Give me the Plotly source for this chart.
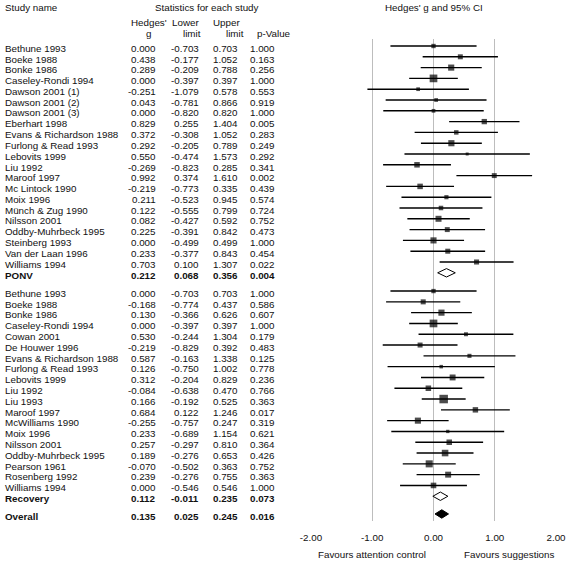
import plotly.graph_objects as go

# ---------------- data ----------------
ponv_names = ["Bethune 1993", "Boeke 1988", "Bonke 1986", "Caseley-Rondi 1994",
              "Dawson 2001 (1)", "Dawson 2001 (2)", "Dawson 2001 (3)", "Eberhart 1998",
              "Evans & Richardson 1988", "Furlong & Read 1993", "Lebovits 1999", "Liu 1992",
              "Maroof 1997", "Mc Lintock 1990", "Moix 1996", "Münch & Zug 1990",
              "Nilsson 2001", "Oddby-Muhrbeck 1995", "Steinberg 1993", "Van der Laan 1996",
              "Williams 1994"]
ponv_g = [0.000, 0.438, 0.289, 0.000, -0.251, 0.043, 0.000, 0.829, 0.372, 0.292, 0.550,
          -0.269, 0.992, -0.219, 0.211, 0.122, 0.082, 0.225, 0.000, 0.233, 0.703]
ponv_lo = [-0.703, -0.177, -0.209, -0.397, -1.079, -0.781, -0.820, 0.255, -0.308, -0.205,
           -0.474, -0.823, 0.374, -0.773, -0.523, -0.555, -0.427, -0.391, -0.499, -0.377, 0.100]
ponv_hi = [0.703, 1.052, 0.788, 0.397, 0.578, 0.866, 0.820, 1.404, 1.052, 0.789, 1.573,
           0.285, 1.610, 0.335, 0.945, 0.799, 0.592, 0.842, 0.499, 0.843, 1.307]
ponv_p = [1.000, 0.163, 0.256, 1.000, 0.553, 0.919, 1.000, 0.005, 0.283, 0.249, 0.292,
          0.341, 0.002, 0.439, 0.574, 0.724, 0.752, 0.473, 1.000, 0.454, 0.022]
ponv_summary = ["PONV", 0.212, 0.068, 0.356, 0.004]

rec_names = ["Bethune 1993", "Boeke 1988", "Bonke 1986", "Caseley-Rondi 1994", "Cowan 2001",
             "De Houwer 1996", "Evans & Richardson 1988", "Furlong & Read 1993",
             "Lebovits 1999", "Liu 1992", "Liu 1993", "Maroof 1997", "McWilliams 1990",
             "Moix 1996", "Nilsson 2001", "Oddby-Muhrbeck 1995", "Pearson 1961",
             "Rosenberg 1992", "Williams 1994"]
rec_g = [0.000, -0.168, 0.130, 0.000, 0.530, -0.219, 0.587, 0.126, 0.312, -0.084, 0.166,
         0.684, -0.255, 0.233, 0.257, 0.189, -0.070, 0.239, 0.000]
rec_lo = [-0.703, -0.774, -0.366, -0.397, -0.244, -0.829, -0.163, -0.750, -0.204, -0.638,
          -0.192, 0.122, -0.757, -0.689, -0.297, -0.276, -0.502, -0.276, -0.546]
rec_hi = [0.703, 0.437, 0.626, 0.397, 1.304, 0.392, 1.338, 1.002, 0.829, 0.470, 0.525,
          1.246, 0.247, 1.154, 0.810, 0.653, 0.363, 0.755, 0.546]
rec_p = [1.000, 0.586, 0.607, 1.000, 0.179, 0.483, 0.125, 0.778, 0.236, 0.766, 0.363,
         0.017, 0.319, 0.621, 0.364, 0.426, 0.752, 0.363, 1.000]
rec_summary = ["Recovery", 0.112, -0.011, 0.235, 0.073]

overall_summary = ["Overall", 0.135, 0.025, 0.245, 0.016]

tick_vals = [-2, -1, 0, 1, 2]
tick_text = ["-2.00", "-1.00", "0.00", "1.00", "2.00"]

# ---------------- layout geometry ----------------
W, H = 567, 563
Y0, ROW = 46.0, 10.8
PLOT_TOP, PLOT_BOT = 39, 521
FONT = "Arial, Liberation Sans, sans-serif"
FS = 9.8
TXT = "#111111"

ponv_pos = list(range(len(ponv_names)))
ponv_sum_pos = len(ponv_names)
rec_start = ponv_sum_pos + 1.69
rec_pos = [rec_start + i for i in range(len(rec_names))]
rec_sum_pos = rec_pos[-1] + 1
overall_pos = rec_sum_pos + 1.64


def ypix(pos):
    return Y0 + ROW * pos


def px(x):
    return x / W


def py(y):
    return 1 - y / H


study_x = ponv_g + rec_g
study_lo = ponv_lo + rec_lo
study_hi = ponv_hi + rec_hi
study_y = [ypix(p) for p in ponv_pos + rec_pos]
study_size = [1.56 * 3.92 / (h - l) for l, h in zip(study_lo, study_hi)]

fig = go.Figure()

# CI lines
lx, ly = [], []
for l, h, y in zip(study_lo, study_hi, study_y):
    lx += [l, h, None]
    ly += [y, y, None]
fig.add_trace(go.Scatter(x=lx, y=ly, mode="lines", line=dict(color="black", width=1.4),
                         hoverinfo="skip", showlegend=False))

# point estimates
fig.add_trace(go.Scatter(x=study_x, y=study_y, mode="markers",
                         marker=dict(symbol="square", size=study_size, color="black",
                                     line=dict(width=0)),
                         showlegend=False))

# summary diamonds
for summ, pos, fill in [(ponv_summary, ponv_sum_pos, "white"),
                        (rec_summary, rec_sum_pos, "white"),
                        (overall_summary, overall_pos, "black")]:
    _, g, lo, hi, _ = summ
    y = ypix(pos)
    hh = 4.2
    fig.add_trace(go.Scatter(x=[lo, g, hi, g, lo], y=[y, y - hh, y, y + hh, y],
                             mode="lines", fill="toself", fillcolor=fill,
                             line=dict(color="black", width=1), hoverinfo="skip",
                             showlegend=False))

# ---------------- table text ----------------
ann = []


def add(text, x, y, anchor="left", bold=False, size=FS):
    if bold:
        text = "<b>" + text + "</b>"
    ann.append(dict(text=text, x=px(x), y=py(y), xref="paper", yref="paper",
                    xanchor=anchor, yanchor="middle", showarrow=False,
                    font=dict(family=FONT, size=size, color=TXT)))


COLS = [157.5, 200.5, 239.5, 276.5]
TDY = 2.2


def row(name, g, lo, hi, p, y, bold=False):
    add(name, 2.5, y + TDY, "left", bold)
    for v, cx in zip([g, lo, hi, p], COLS):
        add(f"{v:.3f}", cx, y + TDY, "right", bold)


for n, g, l, h, p, pos in zip(ponv_names, ponv_g, ponv_lo, ponv_hi, ponv_p, ponv_pos):
    row(n, g, l, h, p, ypix(pos))
row(*ponv_summary, ypix(ponv_sum_pos), bold=True)
for n, g, l, h, p, pos in zip(rec_names, rec_g, rec_lo, rec_hi, rec_p, rec_pos):
    row(n, g, l, h, p, ypix(pos))
row(*rec_summary, ypix(rec_sum_pos), bold=True)
row(*overall_summary, ypix(overall_pos), bold=True)

# headers
add("Study name", 2.5, 7.5)
add("Statistics for each study", 207, 7.5, "center")
add("Hedges' g and 95% CI", 433.7, 7.5, "center")
add("Hedges'", 148.5, 22.5, "center")
add("g", 148.5, 33.5, "center")
add("Lower", 201, 22.5, "right")
add("limit", 202.5, 33.5, "right")
add("Upper", 242, 22.5, "right")
add("limit", 246, 33.5, "right")
add("p-Value", 293, 33.5, "right")

# axis captions
add("Favours attention control", 372, 554, "center")
add("Favours suggestions", 509, 554, "center")

fig.update_layout(
    width=W, height=H,
    margin=dict(l=0, r=0, t=0, b=0, pad=0, autoexpand=False),
    paper_bgcolor="white", plot_bgcolor="white",
    annotations=ann,
    showlegend=False,
    xaxis=dict(domain=[311 / W, 556 / W], range=[-2, 2], tickvals=tick_vals,
               ticktext=tick_text, showgrid=True, gridcolor="#bdbdbd", gridwidth=1,
               zeroline=False, showline=False, ticks="outside", ticklen=7,
               tickcolor="rgba(0,0,0,0)", automargin=False,
               tickfont=dict(family=FONT, size=FS, color=TXT), fixedrange=True),
    yaxis=dict(domain=[1 - PLOT_BOT / H, 1 - PLOT_TOP / H], range=[PLOT_BOT, PLOT_TOP],
               showgrid=False, zeroline=False, showticklabels=False, showline=False,
               automargin=False, fixedrange=True),
)

fig.write_html("out.html", config={"displayModeBar": False},
               post_script="document.body.style.margin='0';"
                           "document.body.style.overflow='hidden';")
